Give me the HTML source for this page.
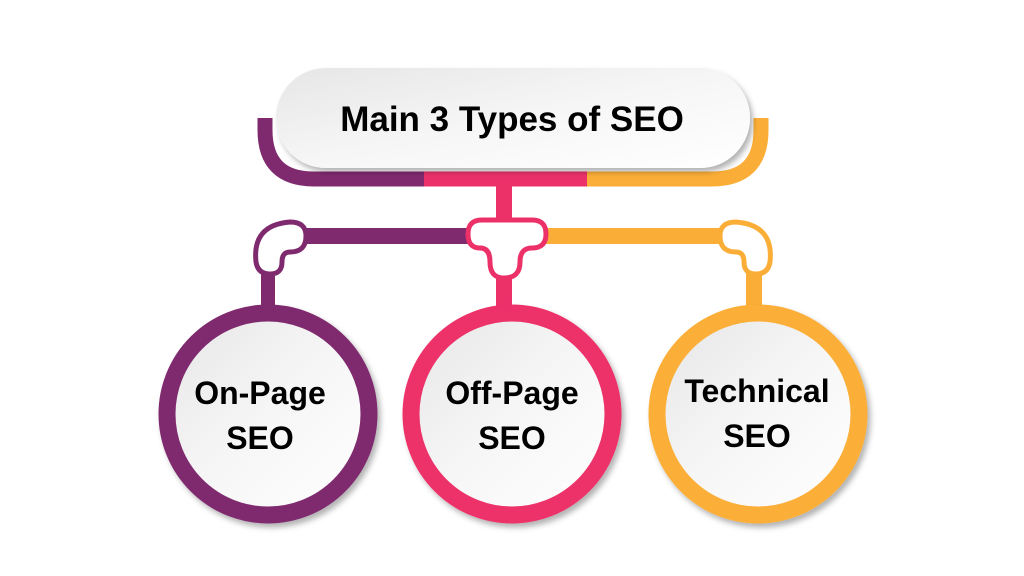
<!DOCTYPE html>
<html><head><meta charset="utf-8"><style>
html,body{margin:0;padding:0;background:#fff;width:1024px;height:576px;overflow:hidden}
svg{display:block}
text{font-family:"Liberation Sans",sans-serif;font-weight:bold;fill:#000;text-anchor:middle}
</style></head><body>
<svg width="1024" height="576" viewBox="0 0 1024 576">
<defs>
<linearGradient id="w" x1="0" y1="0" x2="1" y2="1">
<stop offset="0" stop-color="#e6e6e6"/><stop offset="0.5" stop-color="#f6f6f6"/><stop offset="1" stop-color="#ffffff"/>
</linearGradient>
<filter id="sh" x="-20%" y="-20%" width="140%" height="140%"><feDropShadow dx="3" dy="4" stdDeviation="3" flood-opacity="0.3"/></filter>
</defs>
<path d="M265 118 V130 Q265 179 314 179 H428" fill="none" stroke="#7f2a6e" stroke-width="15"/>
<path d="M424 179 H590" fill="none" stroke="#ec3169" stroke-width="15"/>
<path d="M587 179 H712 Q761 179 761 130 V118" fill="none" stroke="#fbae37" stroke-width="15"/>
<rect x="496" y="180" width="16" height="130" fill="#ec3169"/>
<rect x="275" y="228" width="226" height="16" fill="#7f2a6e"/>
<rect x="508" y="228" width="240" height="16" fill="#fbae37"/>
<rect x="261" y="250" width="14" height="60" fill="#7f2a6e"/>
<rect x="746" y="250" width="16" height="60" fill="#fbae37"/>
<path d="M256 262 Q252 225 290 222 Q306 222 306 236 Q306 252 290 252 Q282 252 282 262 Q282 274 270 274 Q258 274 256 262Z" fill="#fff" stroke="#7f2a6e" stroke-width="5"/>
<path d="M770 262 Q774 225 736 222 Q720 222 720 236 Q720 252 736 252 Q744 252 744 262 Q744 274 756 274 Q768 274 770 262Z" fill="#fff" stroke="#fbae37" stroke-width="5"/>
<path d="M482 220 H532 Q546 220 546 234 Q546 248 532 248 Q520 248 520 262 Q520 278 504 278 Q490 278 490 262 Q490 248 480 248 Q468 248 468 234 Q468 220 482 220Z" fill="#fff" stroke="#ec3169" stroke-width="5"/>
<rect x="276" y="68" width="474" height="100" rx="50" fill="url(#w)" filter="url(#sh)"/>
<text x="512" y="131" font-size="35">Main 3 Types of SEO</text>
<circle cx="268" cy="414" r="101" fill="url(#w)" stroke="#7f2a6e" stroke-width="17" filter="url(#sh)"/>
<circle cx="512" cy="414" r="101" fill="url(#w)" stroke="#ec3169" stroke-width="17" filter="url(#sh)"/>
<circle cx="758" cy="414" r="101" fill="url(#w)" stroke="#fbae37" stroke-width="17" filter="url(#sh)"/>
<text x="260" y="404" font-size="32">On-Page</text>
<text x="260" y="449" font-size="32">SEO</text>
<text x="512" y="404" font-size="32">Off-Page</text>
<text x="512" y="449" font-size="32">SEO</text>
<text x="757" y="402" font-size="32">Technical</text>
<text x="757" y="447" font-size="32">SEO</text>
</svg>
</body></html>
